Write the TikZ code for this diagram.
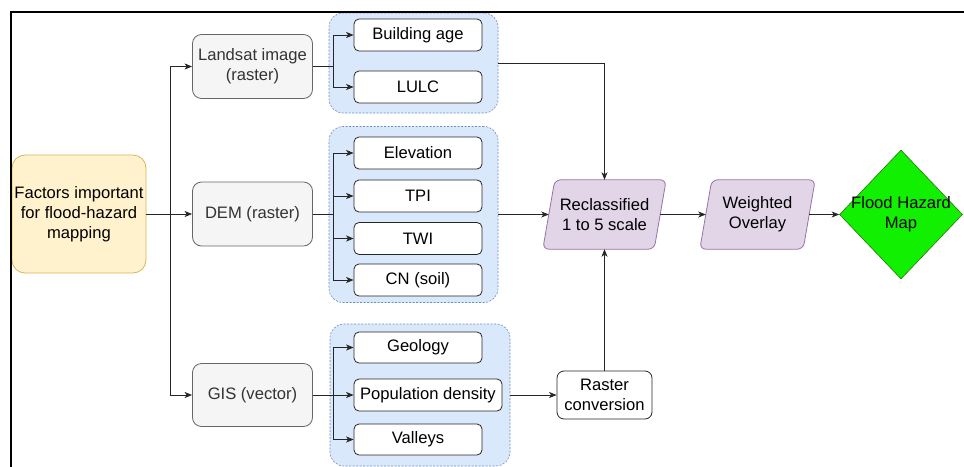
\documentclass[tikz,border=0pt]{standalone}
\usepackage{fontspec}
\setmainfont{Liberation Sans}
\usetikzlibrary{arrows.meta,shapes.geometric,backgrounds}

\definecolor{srcfill}{HTML}{FFF2CC}
\definecolor{srcline}{HTML}{D6B656}
\definecolor{grayfill}{HTML}{F5F5F5}
\definecolor{grayline}{HTML}{666666}
\definecolor{graytext}{HTML}{333333}
\definecolor{grpfill}{HTML}{DAE8FC}
\definecolor{grpline}{HTML}{6C8EBF}
\definecolor{procfill}{HTML}{E1D5E7}
\definecolor{procline}{HTML}{9673A6}
\definecolor{mapfill}{RGB}{16,240,0}
\definecolor{mapline}{RGB}{40,120,10}

\newcommand{\lbl}{\fontsize{16.6}{20}\selectfont}

\begin{document}
\begin{tikzpicture}[x=1pt,y=-1pt,
  every node/.style={font=\lbl, align=center, inner sep=0pt},
  src/.style={draw=srcline, fill=srcfill, rounded corners=13pt, line width=0.8pt},
  data/.style={draw=grayline, fill=grayfill, text=graytext, rounded corners=9pt,
    line width=0.8pt, minimum width=120pt, minimum height=64pt},
  grp/.style={draw=grpline, fill=grpfill, dashed, dash pattern=on 2pt off 1.5pt,
    rounded corners=14pt, line width=0.6pt},
  item/.style={draw=black!85, fill=white, rounded corners=5pt, line width=0.8pt,
    minimum width=128pt, minimum height=32pt},
  para/.style={draw=procline, fill=procfill, rounded corners=6pt, line width=0.8pt},
  link/.style={draw=black!85, line width=0.8pt},
  arr/.style={link, -{Stealth[length=7.5pt,width=6pt,inset=2pt]}}]

\useasboundingbox (0,0) rectangle (964,466);

% factor groups
\node[grp, minimum width=169pt, minimum height=100pt] (g1) at (413.5,63) {};
\node[grp, minimum width=169pt, minimum height=176pt] (g2) at (413.5,214.5) {};
\node[grp, minimum width=180pt, minimum height=142pt] (g3) at (420,395) {};

% source
\node[src, minimum width=134pt, minimum height=118pt] (factors) at (79,214)
  {Factors important\\for flood-hazard\\mapping};

% data sources
\node[data] (landsat) at (252.5,66.5) {Landsat image\\(raster)};
\node[data] (dem) at (252.5,214) {DEM (raster)};
\node[data, minimum height=63pt] (gis) at (252.5,395) {GIS (vector)};

% factors
\node[item] (bage) at (418,35) {Building age};
\node[item] (lulc) at (418,87) {LULC};
\node[item] (elev) at (418,153) {Elevation};
\node[item] (tpi) at (418,196) {TPI};
\node[item] (twi) at (418,238.5) {TWI};
\node[item] (cn) at (418,280) {CN (soil)};
\node[item, minimum height=31pt] (geol) at (418,347.5) {Geology};
\node[item, minimum width=148pt] (popd) at (428,395) {Population density};
\node[item, minimum height=31pt] (vall) at (418,439.5) {Valleys};

% processing
\node[item, minimum width=95pt, minimum height=48pt, rounded corners=7pt] (raster)
  at (604.5,395) {Raster\\conversion};
\node[minimum width=111pt, minimum height=69pt] (recl) at (604.5,214.5)
  {Reclassified\\1 to 5 scale};
\node[minimum width=103pt, minimum height=69pt] (wov) at (757.5,214.5)
  {Weighted\\Overlay};
\node[diamond, draw=mapline, fill=mapfill, line width=0.6pt,
  minimum width=123pt, minimum height=129pt] (flood) at (901,214.5) {};
\node (floodtxt) at (flood.center) {Flood Hazard\\Map};

\begin{scope}[on background layer]
  \draw[para] ([xshift=-6pt]recl.south west) -- ([xshift=6pt]recl.north west)
    -- ([xshift=6pt]recl.north east) -- ([xshift=-6pt]recl.south east) -- cycle;
  \draw[para] ([xshift=-6pt]wov.south west) -- ([xshift=6pt]wov.north west)
    -- ([xshift=6pt]wov.north east) -- ([xshift=-6pt]wov.south east) -- cycle;
\end{scope}

% connectors from the source
\coordinate (fj) at (170,214);
\draw[arr] (factors.east) -- (dem.west);
\draw[arr] (fj) |- (landsat.west);
\draw[arr] (fj) |- (gis.west);

% branches into each group
\coordinate (j1) at (333,66.5);
\draw[link] (landsat.east) -- (j1);
\draw[arr] (j1) |- (bage.west);
\draw[arr] (j1) |- (lulc.west);

\coordinate (j2) at (333,214);
\draw[link] (dem.east) -- (j2);
\draw[arr] (j2) |- (elev.west);
\draw[arr] (j2) |- (tpi.west);
\draw[arr] (j2) |- (twi.west);
\draw[arr] (j2) |- (cn.west);

\coordinate (j3) at (333,395);
\draw[link] (gis.east) -- (j3);
\draw[arr] (j3) |- (geol.west);
\draw[arr] (j3) -- (popd.west);
\draw[arr] (j3) |- (vall.west);

% groups to processing
\draw[arr] (g1.east) -| (recl.north);
\draw[arr] (g2.east) -- (recl.west);
\draw[arr] (g3.east) -- (raster.west);
\draw[arr] (raster.north) -- (recl.south);
\draw[arr] (recl.east) -- (wov.west);
\draw[arr] (wov.east) -- (flood.west);

% frame
\draw[black, line width=1.8pt] (11,470) -- (11,12) -- (970,12);
\end{tikzpicture}
\end{document}
